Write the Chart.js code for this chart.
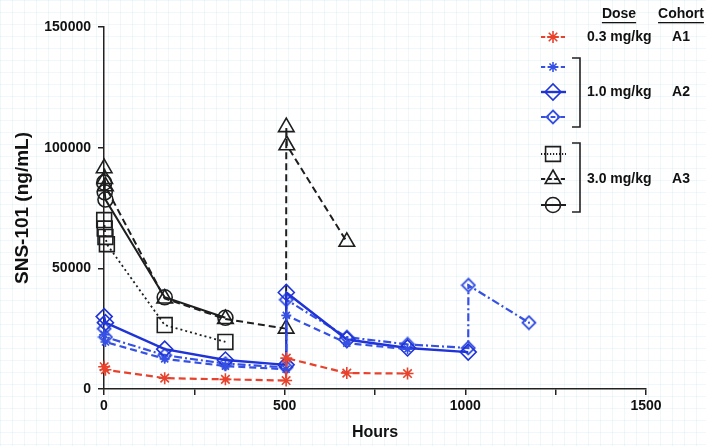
<!DOCTYPE html>
<html>
<head>
<meta charset="utf-8">
<script src="https://cdn.jsdelivr.net/npm/chart.js@4.4.1/dist/chart.umd.min.js"></script>
<style>
  html, body { margin: 0; padding: 0; }
  body {
    width: 706px; height: 446px; overflow: hidden;
    background-color: #fff;
    background-image:
      linear-gradient(to right, rgba(200,228,238,0.28) 1px, transparent 1px),
      linear-gradient(to bottom, rgba(200,228,238,0.28) 1px, transparent 1px);
    background-size: 12px 12px;
  }
  #wrap { position: relative; width: 706px; height: 446px; }
</style>
</head>
<body>
<div id="wrap"><canvas id="pk-chart"></canvas></div>
<script>
// time (hours) and SNS-101 concentration (ng/mL), one pair of arrays per subject
const hoursA1  = [0.5, 4, 168, 336, 504, 504.5, 672, 840];
const concA1   = [9200, 8000, 4500, 4000, 3500, 12800, 6600, 6400];

const hoursA2a = [0.5, 4, 168, 336, 504, 504.5, 672, 840];
const concA2a  = [22500, 19500, 12500, 9500, 8200, 30500, 19000, 16500];
const hoursA2b = [0.5, 4, 168, 336, 504, 504.5, 672, 840, 1008];
const concA2b  = [30000, 27500, 16500, 12000, 10000, 40000, 20500, 17000, 15300];
const hoursA2c = [0.5, 4, 168, 336, 504, 504.5, 672, 840, 1008, 1008.5, 1176];
const concA2c  = [25000, 21500, 14000, 10500, 9000, 37000, 21500, 18500, 17000, 43000, 27500];

const hoursA3a = [0.5, 2, 4, 8, 168, 336];
const concA3a  = [70000, 66500, 63000, 60000, 26500, 19500];
const hoursA3b = [0.5, 2, 4, 168, 336, 504, 504.5, 506, 672];
const concA3b  = [91500, 87000, 84000, 37500, 29000, 25000, 108500, 101000, 61000];
const hoursA3c = [0.5, 2, 4, 168, 336];
const concA3c  = [85500, 81500, 78500, 38000, 29500];

const xTicks = [0, 500, 1000, 1500];
const yTicks = [0, 50000, 100000, 150000];

const FONT = '"Liberation Sans", Arial, sans-serif';
const RED = "#e8412c", BLUE = "#1f33d6", BLUE2 = "#3550e2", BLACK = "#1e1e1e";
const DASH = [7, 4], DOT = [2, 3], DASHDOT = [8, 3, 2, 3];

// diamond with a dot in the middle
function dotDiamond(color) {
  const c = document.createElement("canvas");
  c.width = 16; c.height = 16;
  const g = c.getContext("2d");
  g.strokeStyle = color; g.lineWidth = 1.8;
  g.beginPath();
  g.moveTo(8, 1.5); g.lineTo(14.5, 8); g.lineTo(8, 14.5); g.lineTo(1.5, 8); g.closePath();
  g.stroke();
  g.fillStyle = color;
  g.fillRect(7, 7, 2, 2);
  return c;
}
const dotDiamondImg = dotDiamond(BLUE2);

const pts = (xs, ys) => xs.map((x, i) => ({x, y: ys[i]}));

function ds(label, xs, ys, color, dash, style, radius, width) {
  return {
    label, data: pts(xs, ys), showLine: true, clip: false,
    borderColor: color, backgroundColor: "rgba(0,0,0,0)",
    borderWidth: width, borderDash: dash,
    pointStyle: style, pointRadius: radius, pointBorderColor: color,
    pointBackgroundColor: "rgba(0,0,0,0)", pointBorderWidth: 1.6,
    pointHoverRadius: radius,
  };
}

const datasets = [
  ds("A1", hoursA1, concA1, RED, DASH, "star", 6, 2.2),
  ds("A2a", hoursA2a, concA2a, BLUE2, DASH, "star", 5, 2.2),
  ds("A2b", hoursA2b, concA2b, BLUE, [], "rectRot", 8, 2.4),
  ds("A2c", hoursA2c, concA2c, BLUE2, DASHDOT, dotDiamondImg, 7, 2.2),
  ds("A3a", hoursA3a, concA3a, BLACK, DOT, "rect", 10.5, 1.8),
  ds("A3b", hoursA3b, concA3b, BLACK, DASH, "triangle", 9, 2),
  ds("A3c", hoursA3c, concA3c, BLACK, [], "circle", 7.5, 2),
];

const legendRows = [
  {ds: 0, y: 37}, {ds: 1, y: 67}, {ds: 2, y: 92}, {ds: 3, y: 117},
  {ds: 4, y: 154}, {ds: 5, y: 179}, {ds: 6, y: 205},
];
const legendGroups = [
  {dose: "0.3 mg/kg", cohort: "A1", y: 37, bracket: null},
  {dose: "1.0 mg/kg", cohort: "A2", y: 92, bracket: [58, 127]},
  {dose: "3.0 mg/kg", cohort: "A3", y: 179, bracket: [143, 212]},
];

const legendPlugin = {
  id: "doseLegend",
  afterDraw(chart) {
    const ctx = chart.ctx;
    ctx.save();
    ctx.font = "bold 14px " + FONT;
    ctx.fillStyle = "#111";
    ctx.textAlign = "center"; ctx.textBaseline = "middle";
    [["Dose", 619], ["Cohort", 681]].forEach(([t, x]) => {
      ctx.fillText(t, x, 14);
      const w = ctx.measureText(t).width;
      ctx.fillRect(x - w / 2, 22, w, 1.3);
    });
    legendRows.forEach(r => {
      const d = chart.data.datasets[r.ds];
      ctx.strokeStyle = d.borderColor; ctx.lineWidth = d.borderWidth;
      ctx.setLineDash(d.borderDash.length ? d.borderDash.map(v => v * 0.6) : []);
      ctx.beginPath(); ctx.moveTo(541, r.y); ctx.lineTo(566, r.y); ctx.stroke();
      ctx.setLineDash([]);
      ctx.lineWidth = d.pointBorderWidth;
      ctx.fillStyle = "rgba(0,0,0,0)";
      Chart.helpers.drawPoint(ctx, {pointStyle: d.pointStyle, radius: d.pointRadius,
        rotation: 0, borderWidth: d.pointBorderWidth}, 553, r.y);
    });
    ctx.fillStyle = "#111";
    ctx.strokeStyle = "#222"; ctx.lineWidth = 1.6;
    legendGroups.forEach(g => {
      ctx.textAlign = "left";
      ctx.fillText(g.dose, 587, g.y);
      ctx.textAlign = "center";
      ctx.fillText(g.cohort, 681, g.y);
      if (g.bracket) {
        ctx.beginPath();
        ctx.moveTo(572, g.bracket[0]); ctx.lineTo(580, g.bracket[0]);
        ctx.lineTo(580, g.bracket[1]); ctx.lineTo(572, g.bracket[1]);
        ctx.stroke();
      }
    });
    ctx.restore();
  },
};

new Chart(document.getElementById("pk-chart"), {
  type: "scatter",
  data: {datasets},
  plugins: [legendPlugin],
  options: {
    responsive: true, maintainAspectRatio: false, animation: false,
    layout: {padding: {top: 27, right: 60, left: 0, bottom: 0}},
    plugins: {legend: {display: false}, tooltip: {enabled: false}},
    scales: {
      x: {
        type: "linear", min: 0, max: 1500,
        afterFit: s => { s.height = 57; },
        ticks: {stepSize: 250, autoSkip: false, padding: 3, color: "#111",
          font: {family: FONT, size: 14, weight: "bold"},
          callback: v => xTicks.includes(v) ? String(v) : ""},
        grid: {drawOnChartArea: false, drawTicks: true, tickLength: 6, color: "#222", lineWidth: 1.5},
        border: {color: "#222", width: 1.5},
        title: {display: true, text: "Hours", color: "#111", padding: {top: 4, bottom: 4},
          font: {family: FONT, size: 16, weight: "bold"}},
      },
      y: {
        type: "linear", min: 0, max: 150000,
        afterFit: s => { s.width = 104; },
        ticks: {stepSize: 50000, padding: 7, color: "#111",
          font: {family: FONT, size: 14, weight: "bold"},
          callback: v => yTicks.includes(v) ? String(v) : ""},
        grid: {drawOnChartArea: false, drawTicks: true, tickLength: 6, color: "#222", lineWidth: 1.5},
        border: {color: "#222", width: 1.5},
        title: {display: true, text: "SNS-101 (ng/mL)", color: "#111", padding: {top: 11, bottom: 0},
          font: {family: FONT, size: 19, weight: "bold"}},
      },
    },
  },
});
</script>
</body>
</html>
